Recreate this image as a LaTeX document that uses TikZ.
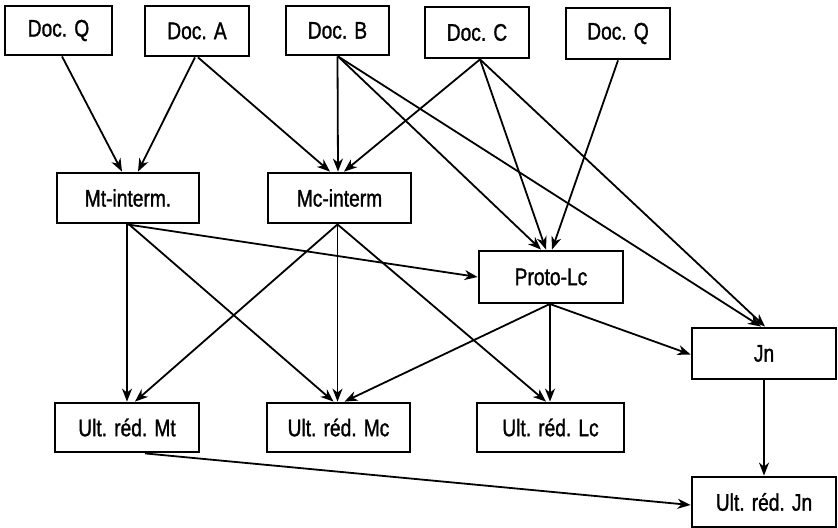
\documentclass[tikz,border=0pt]{standalone}
\usepackage{fontspec}
\setmainfont{Liberation Sans}[FakeStretch=0.8,FakeBold=1.2]
\usetikzlibrary{arrows.meta,calc}
\begin{document}
\begin{tikzpicture}[x=0.5pt,y=-0.5pt,
  box/.style={draw,line width=1.4pt,rectangle,inner sep=0pt,font=\fontsize{12}{14}\selectfont},
  arr/.style={line width=0.9pt,-{Stealth[length=6.5pt,width=5pt,inset=2pt]}}]
\useasboundingbox (0,0) rectangle (838,528);
\node[box,minimum width=53.5pt,minimum height=24.5pt] (dq1) at (58.5,30.5) {Doc. Q};
\node[box,minimum width=52pt,minimum height=25pt] (da) at (197,31) {Doc. A};
\node[box,minimum width=51.5pt,minimum height=24.5pt] (db) at (337.5,30.5) {Doc. B};
\node[box,minimum width=52pt,minimum height=25.5pt] (dc) at (477,32.5) {Doc. C};
\node[box,minimum width=52pt,minimum height=25.5pt] (dq2) at (618,33.5) {Doc. Q};
\node[box,minimum width=71pt,minimum height=25pt] (mt) at (128,198) {Mt-interm.};
\node[box,minimum width=71.5pt,minimum height=25pt] (mc) at (339.5,198) {Mc-interm};
\node[box,minimum width=72pt,minimum height=26pt] (pl) at (551,277) {Proto-Lc};
\node[box,minimum width=72pt,minimum height=25.5pt] (jn) at (764,353.5) {Jn};
\node[box,minimum width=72pt,minimum height=24.5pt] (umt) at (127,427.5) {Ult. réd. Mt};
\node[box,minimum width=71.5pt,minimum height=24.5pt] (umc) at (338.5,427.5) {Ult. réd. Mc};
\node[box,minimum width=73.5pt,minimum height=24.5pt] (ulc) at (550.5,427.5) {Ult. réd. Lc};
\node[box,minimum width=72pt,minimum height=25pt] (ujn) at (764,502) {Ult. réd. Jn};
% top layer
\draw[arr] ($(dq1.south)+(3.5,0)$) -- ($(mt.north)+(-6,0)$);
\draw[arr] ($(da.south)+(-2,0)$) -- ($(mt.north)+(10,0)$);
\draw[arr] ($(da.south)+(1,0)$) -- ($(mc.north)+(-9.5,0)$);
\draw[arr] ($(db.south)+(0,0)$) -- ($(mc.north)+(-1.5,0)$);
\draw[arr] ($(dc.south)+(3,0)$) -- ($(mc.north)+(4.5,0)$);
\draw[arr] ($(db.south)+(0.5,0)$) -- ($(pl.north)+(-10,0)$);
\draw[arr] ($(db.south)+(0.5,0)$) -- ($(jn.north)+(-3,0)$);
\draw[arr] ($(dc.south)+(3,0)$) -- ($(pl.north)+(-5,0)$);
\draw[arr] ($(dc.south)+(3,0)$) -- ($(jn.north)+(1,0)$);
\draw[arr] (dq2.south) -- ($(pl.north)+(1,0)$);
% middle layer
\draw[arr] ($(mt.south)+(-1,0)$) -- (pl.west);
\draw[arr] ($(mt.south)+(-1,0)$) -- (umt.north);
\draw[arr] ($(mt.south)+(1,0)$) -- ($(umc.north)+(-5,0)$);
\draw[arr] ($(mc.south)+(-2,0)$) -- ($(umt.north)+(8,0)$);
\draw[arr] ($(mc.south)+(-2,0)$) -- ($(umc.north)+(-1,0)$);
\draw[arr] ($(mc.south)+(-2,0)$) -- ($(ulc.north)+(-4.5,0)$);
\draw[arr] ($(pl.south)+(-2,0)$) -- ($(umc.north)+(6,0)$);
\draw[arr] ($(pl.south)+(-1,0)$) -- ($(ulc.north)+(-0.5,0)$);
\draw[arr] (pl.south) -- ($(jn.west)+(0,1)$);
% bottom
\draw[arr] (jn.south) -- (ujn.north);
\draw[arr] ($(umt.south)+(18,0)$) -- ($(ujn.west)+(0,3)$);
\end{tikzpicture}
\end{document}
